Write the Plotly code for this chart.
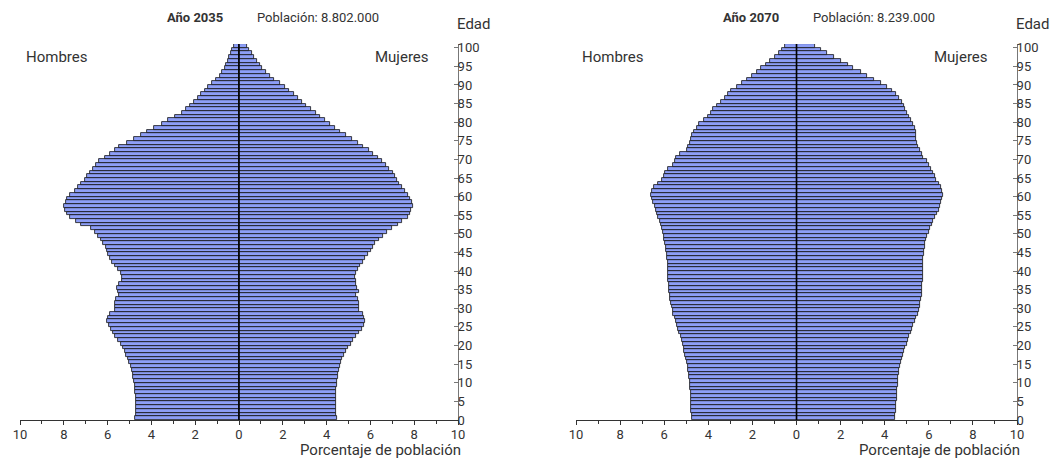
import plotly.graph_objects as go

# edades 0..100
edades = list(range(101))

# Año 2035 (valores por edad)
hombres_2035 = [4.74, 4.72, 4.72, 4.72, 4.72, 4.72, 4.72, 4.73, 4.74, 4.76,
                4.79, 4.82, 4.86, 4.90, 4.95, 5.01, 5.08, 5.15, 5.22, 5.30,
                5.40, 5.52, 5.64, 5.76, 5.86, 5.95, 6.02, 5.98, 5.88, 5.66,
                5.64, 5.64, 5.62, 5.50, 5.52, 5.55, 5.50, 5.36, 5.34, 5.40,
                5.52, 5.64, 5.79, 5.88, 5.96, 6.02, 6.08, 6.20, 6.32, 6.45,
                6.58, 6.78, 7.22, 7.45, 7.72, 7.86, 7.95, 7.97, 7.92, 7.84,
                7.72, 7.50, 7.36, 7.20, 7.05, 6.92, 6.80, 6.66, 6.52, 6.38,
                6.10, 5.90, 5.66, 5.46, 5.12, 4.78, 4.48, 4.22, 3.90, 3.52,
                3.22, 2.90, 2.62, 2.44, 2.26, 2.06, 1.88, 1.72, 1.55, 1.40,
                1.22, 1.05, 0.88, 0.76, 0.66, 0.58, 0.52, 0.44, 0.36, 0.30,
                0.25]
mujeres_2035 = [4.48, 4.44, 4.43, 4.43, 4.43, 4.43, 4.43, 4.44, 4.45, 4.47,
                4.49, 4.51, 4.53, 4.56, 4.60, 4.64, 4.70, 4.78, 4.88, 4.98,
                5.10, 5.22, 5.36, 5.50, 5.62, 5.70, 5.76, 5.72, 5.68, 5.46,
                5.46, 5.46, 5.44, 5.32, 5.50, 5.40, 5.36, 5.32, 5.30, 5.34,
                5.44, 5.54, 5.66, 5.76, 5.88, 6.02, 6.12, 6.22, 6.40, 6.56,
                6.78, 6.98, 7.25, 7.45, 7.70, 7.80, 7.86, 7.95, 7.92, 7.82,
                7.70, 7.58, 7.44, 7.32, 7.22, 7.14, 7.02, 6.86, 6.70, 6.52,
                6.34, 6.12, 5.92, 5.68, 5.45, 5.18, 4.90, 4.62, 4.40, 4.16,
                3.92, 3.72, 3.50, 3.28, 3.06, 2.88, 2.68, 2.50, 2.30, 2.10,
                1.88, 1.62, 1.42, 1.22, 1.06, 0.94, 0.82, 0.70, 0.58, 0.46,
                0.36]

# Año 2070
hombres_2070 = [4.74, 4.76, 4.77, 4.78, 4.78, 4.79, 4.80, 4.80, 4.81, 4.82,
                4.84, 4.86, 4.88, 4.90, 4.93, 4.96, 5.00, 5.04, 5.08, 5.12,
                5.16, 5.21, 5.26, 5.31, 5.36, 5.42, 5.48, 5.53, 5.58, 5.62,
                5.66, 5.69, 5.72, 5.75, 5.77, 5.79, 5.80, 5.81, 5.82, 5.82,
                5.83, 5.84, 5.85, 5.87, 5.89, 5.91, 5.94, 5.97, 6.00, 6.03,
                6.06, 6.10, 6.16, 6.21, 6.26, 6.32, 6.38, 6.44, 6.50, 6.55,
                6.58, 6.56, 6.45, 6.28, 6.12, 6.02, 5.95, 5.82, 5.60, 5.52,
                5.45, 5.28, 4.98, 4.90, 4.84, 4.78, 4.72, 4.64, 4.52, 4.40,
                4.18, 4.02, 3.90, 3.78, 3.60, 3.42, 3.25, 3.12, 2.95, 2.72,
                2.48, 2.25, 2.00, 1.80, 1.62, 1.40, 1.18, 0.98, 0.80, 0.65,
                0.50]
mujeres_2070 = [4.47, 4.48, 4.50, 4.51, 4.53, 4.54, 4.56, 4.57, 4.58, 4.59,
                4.60, 4.61, 4.63, 4.65, 4.68, 4.72, 4.77, 4.82, 4.87, 4.93,
                4.99, 5.05, 5.11, 5.17, 5.23, 5.30, 5.37, 5.43, 5.49, 5.54,
                5.58, 5.62, 5.65, 5.68, 5.70, 5.71, 5.71, 5.72, 5.72, 5.72,
                5.73, 5.73, 5.74, 5.75, 5.77, 5.79, 5.82, 5.85, 5.89, 5.94,
                6.00, 6.06, 6.13, 6.20, 6.27, 6.35, 6.44, 6.50, 6.56, 6.60,
                6.66, 6.62, 6.55, 6.48, 6.32, 6.26, 6.18, 6.10, 6.02, 5.92,
                5.75, 5.68, 5.59, 5.52, 5.46, 5.43, 5.43, 5.42, 5.36, 5.28,
                5.18, 5.10, 5.02, 4.94, 4.86, 4.78, 4.66, 4.52, 4.32, 4.10,
                3.82, 3.52, 3.20, 2.92, 2.58, 2.34, 2.02, 1.70, 1.40, 1.10,
                0.86]

paneles = [
    ("Año 2035", "Población: 8.802.000", hombres_2035, mujeres_2035),
    ("Año 2070", "Población: 8.239.000", hombres_2070, mujeres_2070),
]

x_ticks = [-10, -8, -6, -4, -2, 0, 2, 4, 6, 8, 10]
x_labels = [str(abs(v)) for v in x_ticks]
y_ticks = list(range(0, 101, 5))

# la pagina deja 8px de margen, asi que la figura es un poco menor que la ventana
OFF = 8
W, H = 1058 - OFF, 458 - OFF
FONT = "Roboto, Liberation Sans, sans-serif"
color_barra = "#8d9ef7"

fig = go.Figure()
# posiciones en pixeles (de la ventana) de cada panel: (x_izq, x_der)
dominios = [(20, 458), (576, 1017)]
y_bottom, y_top = 420, 44

annotations = []
shapes = []
for i, (anio, pobl, hom, muj) in enumerate(paneles):
    n = "" if i == 0 else str(i + 1)
    xa, ya = "x" + n, "y" + n
    y_pos = [e + 0.5 for e in edades]
    fig.add_trace(go.Bar(y=y_pos, x=[-v for v in hom], orientation="h",
                         xaxis=xa, yaxis=ya, marker_color=color_barra,
                         marker_line=dict(color="#111", width=0.8),
                         name="Hombres", showlegend=False))
    fig.add_trace(go.Bar(y=y_pos, x=muj, orientation="h",
                         xaxis=xa, yaxis=ya, marker_color=color_barra,
                         marker_line=dict(color="#111", width=0.8),
                         name="Mujeres", showlegend=False))

    x0, x1 = dominios[i]
    fig.update_layout(**{
        "xaxis" + n: dict(domain=[(x0 - OFF) / W, (x1 - OFF) / W], range=[-10, 10],
                          anchor=ya, tickvals=x_ticks, ticktext=x_labels,
                          ticks="outside", ticklen=4, tickcolor="#333",
                          ticklabelstandoff=-2,
                          minor=dict(dtick=1, ticks="outside", ticklen=3, tickcolor="#333"),
                          showline=True, linecolor="#333", linewidth=1,
                          showgrid=False, zeroline=False, automargin=False,
                          tickfont=dict(size=13, color="#333", family=FONT)),
        "yaxis" + n: dict(domain=[1 - (y_bottom - OFF) / H, 1 - (y_top - OFF) / H],
                          range=[0, 101], anchor=xa, side="right", tickvals=y_ticks,
                          ticks="inside", ticklen=4, tickcolor="#777",
                          ticklabelstandoff=-4,
                          showline=True, linecolor="#777", linewidth=1,
                          showgrid=False, zeroline=False, automargin=False,
                          tickfont=dict(size=13, color="#333", family=FONT)),
    })

    shapes.append(dict(type="line", xref=xa, yref=ya + " domain", x0=0, x1=0,
                       y0=0, y1=1, line=dict(color="black", width=1.6), layer="above"))

    textos = [
        (anio, x0 + 145, 17, "left", 13, True),
        (pobl, x0 + 235, 17, "left", 13, False),
        ("Hombres", x0 + 4, 57, "left", 15, False),
        ("Mujeres", x1 - 27, 57, "right", 15, False),
        ("Edad", x1 - 3, 24, "left", 15, False),
        ("Porcentaje de población", x1 + 5, 450, "right", 15, False),
    ]
    for txt, px, py, anc, sz, bold in textos:
        annotations.append(dict(text=f"<b>{txt}</b>" if bold else txt,
                                x=(px - OFF) / W, y=1 - (py - OFF) / H,
                                xref="paper", yref="paper",
                                xanchor=anc, yanchor="middle", showarrow=False,
                                font=dict(size=sz, color="#333", family=FONT)))

fig.update_layout(width=W, height=H, margin=dict(l=0, r=0, t=0, b=0),
                  paper_bgcolor="white", plot_bgcolor="white",
                  barmode="overlay", bargap=0,
                  font=dict(family=FONT, color="#333"),
                  annotations=annotations, shapes=shapes)

fig.write_html("out.html")
